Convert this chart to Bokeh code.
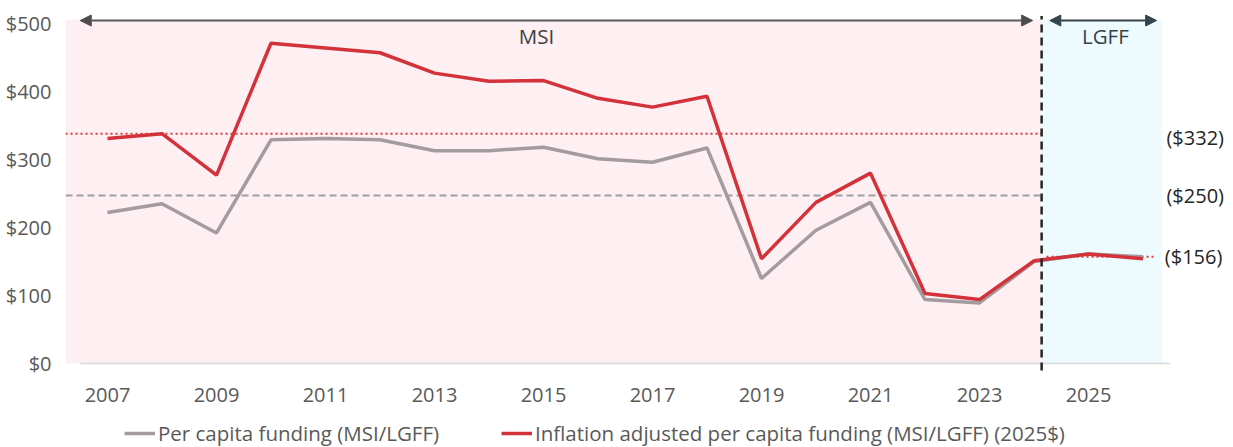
from bokeh.plotting import figure
from bokeh.models import (Range1d, FixedTicker, Arrow, NormalHead, Legend, LegendItem,
                          ColumnDataSource)
from bokeh.embed import file_html
from bokeh.resources import INLINE
from bokeh.core.properties import value

# ---------------- data ----------------
years = list(range(2007, 2027))
per_capita = [222, 235, 192, 329, 331, 329, 313, 313, 318, 301, 296, 317,
              125, 196, 237, 94, 89, 150, 161, 157]
inflation_adj = [331, 338, 277, 471, 464, 457, 427, 415, 416, 390, 377, 393,
                 154, 237, 280, 103, 94, 151, 161, 154]
tick_years = [2007, 2009, 2011, 2013, 2015, 2017, 2019, 2021, 2023, 2025]
y_ticks = [0, 100, 200, 300, 400, 500]
y_tick_labels = ["$0", "$100", "$200", "$300", "$400", "$500"]

msi_avg_real = 338        # red dotted line (label "($332)")
msi_avg_nominal = 247     # grey dashed line (label "($250)")
lgff_avg_real = 157       # red dotted line in LGFF period (label "($156)")
avg_labels = ["($332)", "($250)", "($156)"]
avg_values = [333, 247, 157]

series_names = ["Per capita funding (MSI/LGFF)",
                "Inflation adjusted per capita funding (MSI/LGFF) (2025$)"]

# period boundaries (in year units on the category axis)
x_left = 2006.23
split = 2024.14
lgff_end = 2026.35
y_top_band = 506

FONT = "Open Sans"
GREY = "#A39B9D"
RED = "#D3323A"
FS = "20px"

p = figure(width=1233, height=447, output_backend="svg", toolbar_location=None,
           x_axis_location=None,
           x_range=Range1d(2006.2294, 2027.6606), y_range=Range1d(-123.53, 516.18),
           min_border_left=65, min_border_right=0, min_border_top=12, min_border_bottom=0)
p.outline_line_color = None
p.xgrid.visible = False
p.ygrid.visible = False
p.background_fill_color = "white"
p.border_fill_color = "white"

# background bands
p.quad(left=[x_left], right=[split], bottom=[0], top=[y_top_band],
       fill_color="#FDEFF2", line_color=None)
p.quad(left=[split], right=[lgff_end], bottom=[0], top=[y_top_band],
       fill_color="#EDFAFE", line_color=None)

# baseline (category axis spans 2006.5 .. 2026.5)
p.segment(x0=[years[0] - 0.5], x1=[years[-1] + 0.5], y0=[0], y1=[0],
          line_color="#D9D9D9", line_width=1.5)

# average lines
p.segment(x0=[x_left], x1=[split], y0=[msi_avg_nominal], y1=[msi_avg_nominal],
          line_color="#A0A0A0", line_width=2, line_dash="7 4")
p.segment(x0=[x_left], x1=[split], y0=[msi_avg_real], y1=[msi_avg_real],
          line_color="#E0383C", line_width=2, line_dash="2 3")
p.segment(x0=[split + 0.09], x1=[years[-1] + 0.23], y0=[lgff_avg_real], y1=[lgff_avg_real],
          line_color="#E0383C", line_width=2, line_dash="2 3")

# series
src = ColumnDataSource(dict(year=years, pc=per_capita, adj=inflation_adj))
r_grey = p.line("year", "pc", source=src, line_color=GREY, line_width=3.5)
r_red = p.line("year", "adj", source=src, line_color=RED, line_width=3.5)

# vertical divider
p.segment(x0=[split], x1=[split], y0=[-10.3], y1=[511], line_color="#262626",
          line_width=2.5, line_dash="8 5")

# period arrows
arrow_y = 504.4
p.add_layout(Arrow(start=NormalHead(size=11, fill_color="#4D4D4D", line_color="#4D4D4D"),
                   end=NormalHead(size=11, fill_color="#4D4D4D", line_color="#4D4D4D"),
                   x_start=years[0] - 0.5, x_end=split - 0.165, y_start=arrow_y, y_end=arrow_y,
                   line_color="#5A5A5A", line_width=2))
p.add_layout(Arrow(start=NormalHead(size=11, fill_color="#34444A", line_color="#34444A"),
                   end=NormalHead(size=11, fill_color="#34444A", line_color="#34444A"),
                   x_start=split + 0.15, x_end=lgff_end - 0.1, y_start=arrow_y, y_end=arrow_y,
                   line_color="#34444A", line_width=2))

p.text(x=[2014.87], y=[481], text=["MSI"], text_font=value(FONT), text_font_size="20.5px",
       text_color="#404040", text_align="center", text_baseline="middle")
p.text(x=[2025.31], y=[482], text=["LGFF"], text_font=value(FONT), text_font_size="20.5px",
       text_color="#34444A", text_align="center", text_baseline="middle")

# average value labels on the right
p.text(x=[2026.43, 2026.43, 2026.40], y=avg_values, text=avg_labels,
       text_font=value(FONT), text_font_size=FS, text_color="#262626",
       text_align="left", text_baseline="middle")

# x tick labels (category axis, every other year)
p.text(x=tick_years, y=[-47] * len(tick_years), text=[str(t) for t in tick_years],
       text_font=value(FONT), text_font_size=FS, text_color="#595959",
       text_align="center", text_baseline="middle")

# y axis
p.yaxis.ticker = FixedTicker(ticks=y_ticks)
p.yaxis.major_label_overrides = {t: l for t, l in zip(y_ticks, y_tick_labels)}
p.yaxis.axis_line_color = None
p.yaxis.major_tick_line_color = None
p.yaxis.minor_tick_line_color = None
p.yaxis.major_label_standoff = 8
p.yaxis.major_label_text_font = FONT
p.yaxis.major_label_text_font_size = FS
p.yaxis.major_label_text_color = "#595959"

# legends (two, positioned under the chart)
for r, name, lx in [(r_grey, series_names[0], 59), (r_red, series_names[1], 436)]:
    lg = Legend(items=[LegendItem(label=value(name), renderers=[r])],
                location=(lx, 0), orientation="horizontal",
                glyph_width=31, glyph_height=20, label_height=20, label_standoff=3,
                padding=0, margin=0, border_line_color=None, background_fill_alpha=0,
                label_text_font=FONT, label_text_font_size="20.5px",
                label_text_color="#595959")
    p.add_layout(lg, "center")

open("out.html", "w").write(file_html(p, INLINE))
